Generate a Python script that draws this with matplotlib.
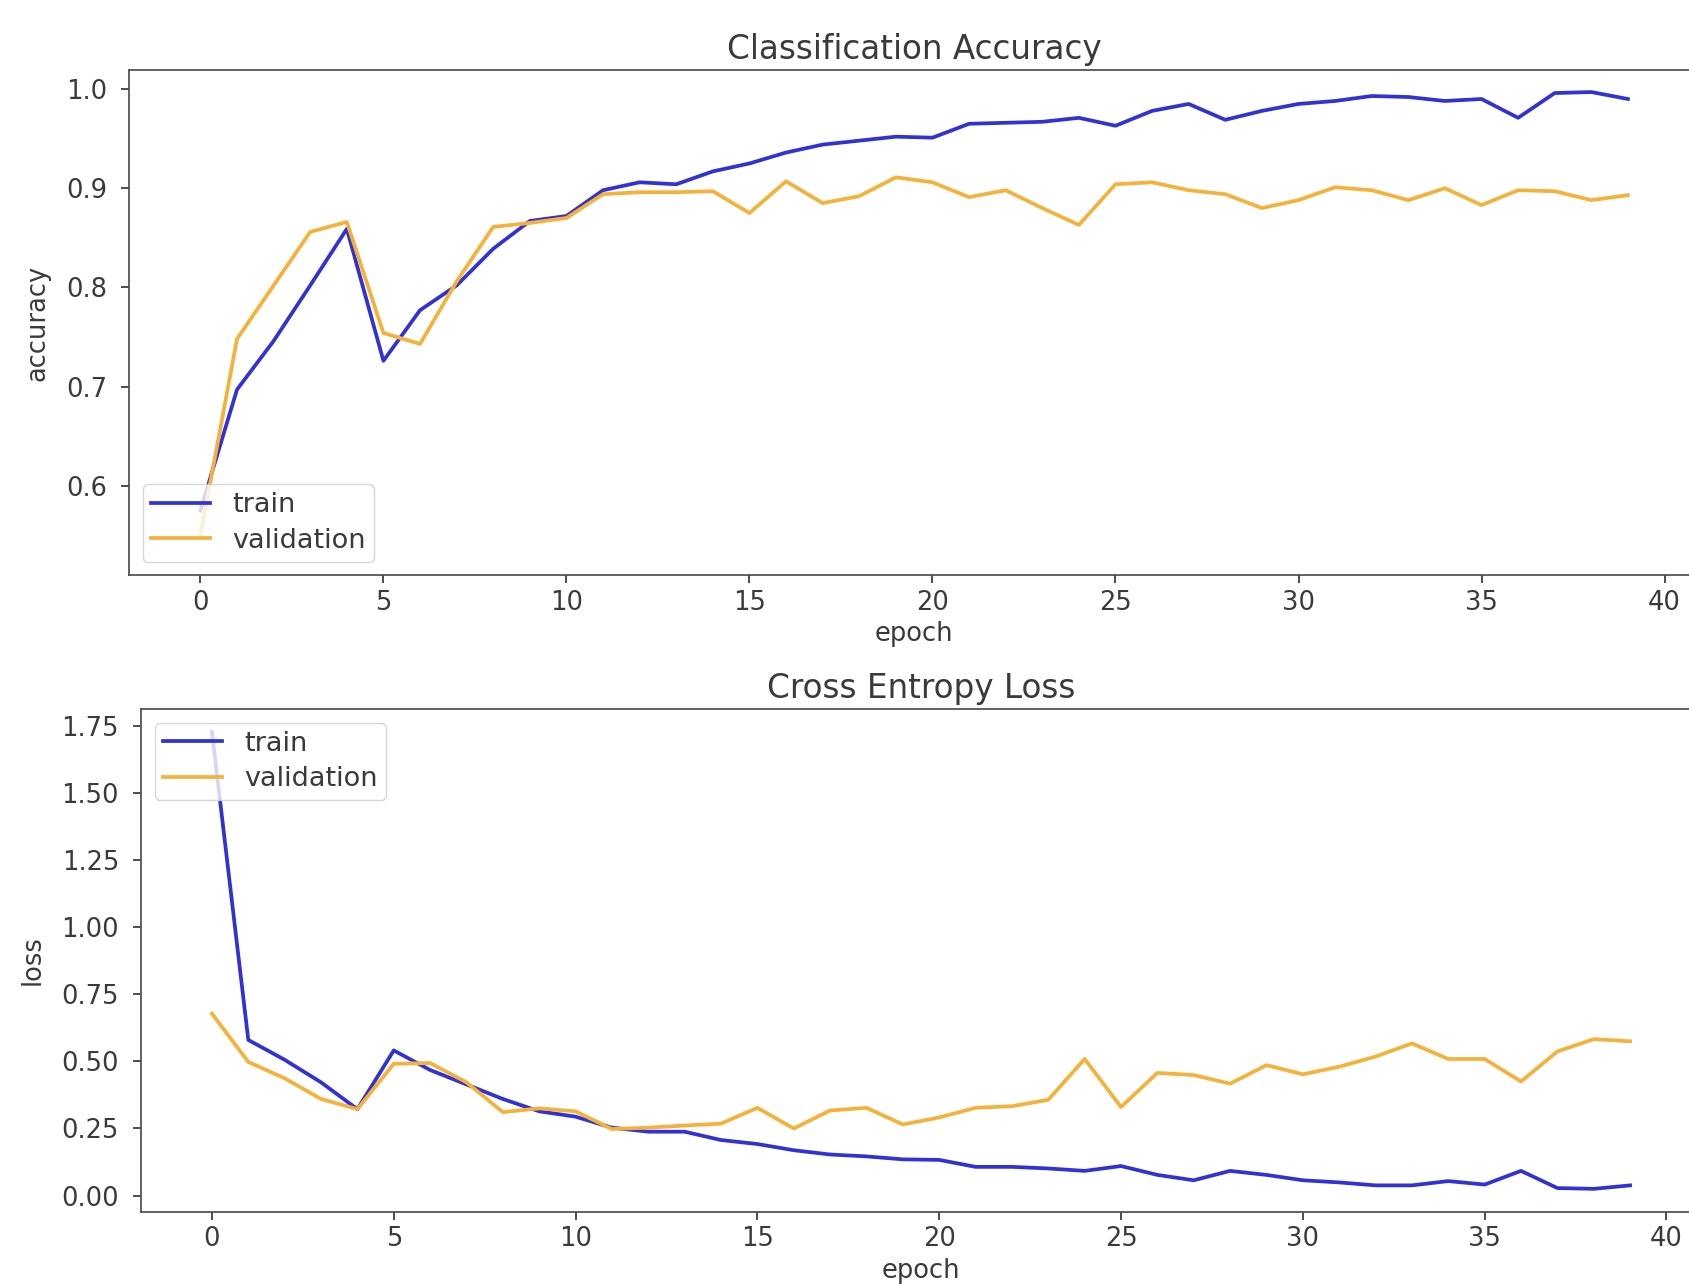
import matplotlib
matplotlib.use("Agg")
import matplotlib.pyplot as plt

# training history
epochs = list(range(40))

train_acc = [0.575, 0.697, 0.746, 0.802, 0.859, 0.726, 0.777, 0.802, 0.839, 0.867,
             0.872, 0.898, 0.906, 0.904, 0.917, 0.925, 0.936, 0.944, 0.948, 0.952,
             0.951, 0.965, 0.966, 0.967, 0.971, 0.963, 0.978, 0.985, 0.969, 0.978,
             0.985, 0.988, 0.993, 0.992, 0.988, 0.990, 0.971, 0.996, 0.997, 0.990]
val_acc = [0.550, 0.748, 0.802, 0.856, 0.866, 0.754, 0.743, 0.806, 0.861, 0.865,
           0.870, 0.894, 0.896, 0.896, 0.897, 0.875, 0.907, 0.885, 0.892, 0.911,
           0.906, 0.891, 0.898, 0.880, 0.863, 0.904, 0.906, 0.898, 0.894, 0.880,
           0.888, 0.901, 0.898, 0.888, 0.900, 0.883, 0.898, 0.897, 0.888, 0.893]

train_loss = [1.728, 0.580, 0.506, 0.422, 0.322, 0.541, 0.468, 0.414, 0.360, 0.314,
              0.294, 0.253, 0.238, 0.238, 0.207, 0.192, 0.169, 0.153, 0.146, 0.135,
              0.133, 0.107, 0.107, 0.101, 0.092, 0.110, 0.077, 0.057, 0.092, 0.077,
              0.057, 0.049, 0.038, 0.038, 0.054, 0.041, 0.092, 0.028, 0.025, 0.038]
val_loss = [0.678, 0.498, 0.437, 0.360, 0.322, 0.491, 0.494, 0.422, 0.311, 0.325,
            0.314, 0.248, 0.253, 0.261, 0.268, 0.327, 0.250, 0.317, 0.327, 0.265,
            0.291, 0.327, 0.333, 0.357, 0.509, 0.330, 0.457, 0.449, 0.417, 0.486,
            0.452, 0.480, 0.518, 0.567, 0.509, 0.509, 0.425, 0.537, 0.583, 0.575]

train_color = "#3232d4"
val_color = "#f5b23a"

s = 1.584  # scale of the original default-size figure
plt.rcParams.update({
    "font.size": 18.5,
    "axes.titlesize": 23.5,
    "legend.fontsize": 19.5,
    "legend.labelspacing": 0.35,
    "legend.borderpad": 0.3,
    "legend.handlelength": 2.2,
    "axes.linewidth": 0.8 * s,
    "xtick.major.width": 0.8 * s,
    "ytick.major.width": 0.8 * s,
    "xtick.major.size": 3.5 * s,
    "ytick.major.size": 3.5 * s,
    "xtick.major.pad": 3.0 * s,
    "ytick.major.pad": 6.5 * s,
    "axes.titlepad": 5 * s,
    "axes.labelpad": 2.5 * s,
    "lines.linewidth": 1.7 * s,
    "text.color": "#3a3a3a",
    "xtick.color": "#3a3a3a",
    "ytick.color": "#3a3a3a",
    "xtick.labelcolor": "#3a3a3a",
    "ytick.labelcolor": "#3a3a3a",
    "axes.labelcolor": "#3a3a3a",
    "axes.edgecolor": "#505050",
})

fig = plt.figure(figsize=(16.89, 12.84), dpi=100)

# top: accuracy (axes run past the right edge, like the cropped screenshot)
ax1 = fig.add_axes([0.0764, 0.5518, 0.9297, 0.3935])
ax1.plot(epochs, train_acc, color=train_color, label="train")
ax1.plot(epochs, val_acc, color=val_color, label="validation")
ax1.set_title("Classification Accuracy")
ax1.set_ylabel("accuracy", labelpad=7 * s)
ax1.set_xlabel("epoch")
ax1.set_ylim(0.5095, 1.019)
ax1.legend(loc="lower left")

# bottom: loss
ax2 = fig.add_axes([0.0835, 0.0563, 0.9236, 0.3915])
ax2.plot(epochs, train_loss, color=train_color, label="train")
ax2.plot(epochs, val_loss, color=val_color, label="validation")
ax2.set_title("Cross Entropy Loss")
ax2.set_ylabel("loss", labelpad=7 * s)
ax2.set_xlabel("epoch")
ax2.legend(loc="upper left")

fig.savefig("out.png", dpi=100)
